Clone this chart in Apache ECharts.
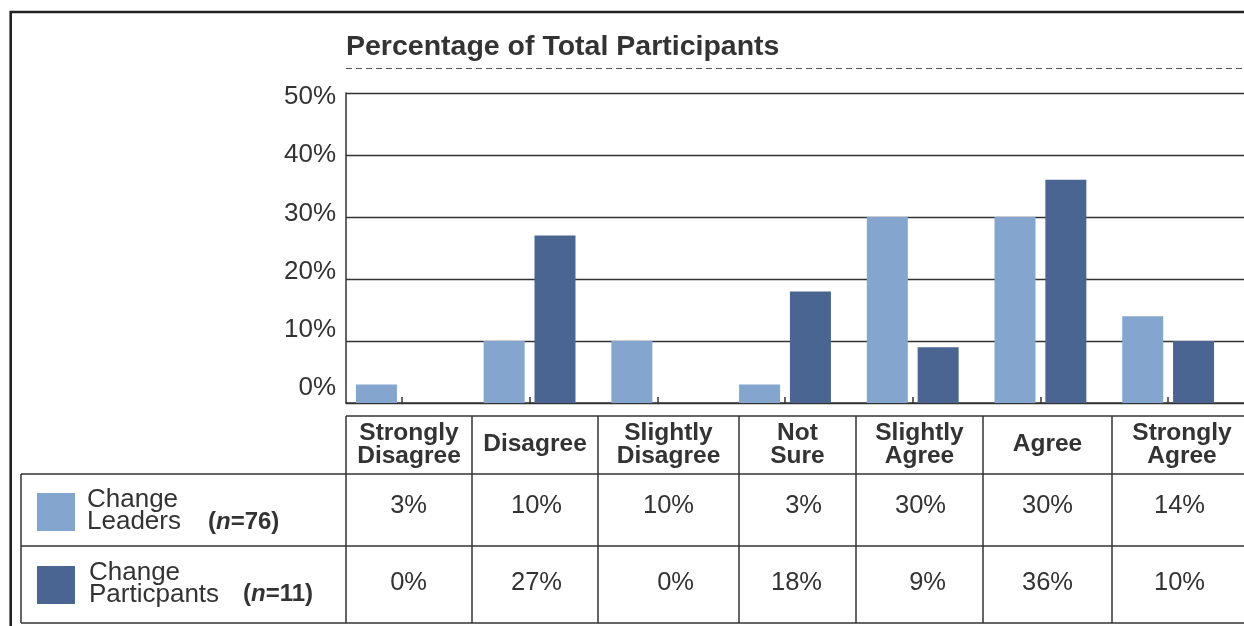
<!DOCTYPE html>
<html>
<head>
<meta charset="utf-8">
<script src="https://cdn.jsdelivr.net/npm/echarts@6/dist/echarts.min.js"></script>
<style>
  html, body { margin: 0; padding: 0; background: #fff; }
  #chart { width: 1244px; height: 626px; }
</style>
</head>
<body>
<div id="chart"></div>
<script>
// ---- data ----
const titleText = 'Percentage of Total Participants';
const categories = ['Strongly\nDisagree', 'Disagree', 'Slightly\nDisagree', 'Not\nSure', 'Slightly\nAgree', 'Agree', 'Strongly\nAgree'];
const leaders = [3, 10, 10, 3, 30, 30, 14];
const participants = [0, 27, 0, 18, 9, 36, 10];
const seriesLabels = ['Change\nLeaders', 'Change\nParticpants'];
const seriesN = ['76', '11'];
const yMin = 0, yMax = 50, yStep = 10;

// ---- layout / style ----
const FONT = '"Liberation Sans", Arial, Helvetica, sans-serif';
const TEXT = '#333333';
const LINE = '#333333';
const LIGHT = '#84A5CD';
const DARK = '#4A6592';
const colEdges = [346, 472, 598, 739, 856, 983, 1112, 1252];
const valueRight = [427, 562, 694, 822, 946, 1073, 1205];
const rowEdges = [416, 474, 546, 623];
const tableLeft = 21;

const chart = echarts.init(document.getElementById('chart'), null, { renderer: 'canvas' });

function seg(x1, y1, x2, y2, w, color, dash) {
  return {
    type: 'line', silent: true, z: 10,
    shape: { x1, y1, x2, y2 },
    style: { stroke: color, lineWidth: w, lineDash: dash || null }
  };
}

const graphics = [];
// outer frame
graphics.push({ type: 'rect', silent: true, z: 10,
  shape: { x: 10.7, y: 12, width: 1400, height: 800 },
  style: { fill: null, stroke: '#222', lineWidth: 2.6 } });
// title
graphics.push({ type: 'text', silent: true, z: 10, x: 346, y: 47,
  style: { text: titleText, font: 'bold 28.5px ' + FONT, fill: TEXT, verticalAlign: 'middle', align: 'left' } });
graphics.push(seg(346, 68.5, 1250, 68.5, 1, '#555', [6, 4]));

// table horizontal lines
graphics.push(seg(colEdges[0], rowEdges[0], 1260, rowEdges[0], 1.5, LINE));
for (let r = 1; r < rowEdges.length; r++) {
  graphics.push(seg(tableLeft, rowEdges[r], 1260, rowEdges[r], 1.5, LINE));
}
// vertical lines
graphics.push(seg(tableLeft, rowEdges[1], tableLeft, rowEdges[3], 1.5, LINE));
colEdges.forEach(x => graphics.push(seg(x, rowEdges[0], x, rowEdges[3], 1.5, LINE)));

// header labels
categories.forEach((c, i) => {
  graphics.push({ type: 'text', silent: true, z: 11,
    x: (colEdges[i] + colEdges[i + 1]) / 2, y: 444.5,
    style: { text: c, font: 'bold 24.5px ' + FONT, fill: TEXT, align: 'center', verticalAlign: 'middle', lineHeight: 23 } });
});

// value cells
const rowsData = [leaders, participants];
const rowMid = [506, 582.5];
rowsData.forEach((arr, r) => {
  arr.forEach((v, i) => {
    graphics.push({ type: 'text', silent: true, z: 11,
      x: valueRight[i], y: rowMid[r],
      style: { text: v + '%', font: '25.5px ' + FONT, fill: TEXT, align: 'right', verticalAlign: 'middle' } });
  });
});

// legend cells
const swatchColors = [LIGHT, DARK];
const swatchTop = [493, 566];
const labelX = [87, 89];
const labelMid = [511, 584];
const nX = [208, 243];
const nMid = [522.5, 594];
seriesLabels.forEach((lab, r) => {
  graphics.push({ type: 'rect', silent: true, z: 11,
    shape: { x: 37, y: swatchTop[r], width: 38, height: 38 },
    style: { fill: swatchColors[r] } });
  graphics.push({ type: 'text', silent: true, z: 11, x: labelX[r], y: labelMid[r],
    style: { text: lab, font: '26px ' + FONT, fill: TEXT, align: 'left', verticalAlign: 'middle', lineHeight: 22 } });
  graphics.push({ type: 'text', silent: true, z: 11, x: nX[r], y: nMid[r],
    style: { text: '(' + '{i|n}' + '=' + seriesN[r] + ')', font: 'bold 24px ' + FONT, fill: TEXT, align: 'left', verticalAlign: 'middle',
      rich: { i: { font: 'italic bold 24px ' + FONT, fill: TEXT } } } });
});

const option = {
  animation: false,
  backgroundColor: '#ffffff',
  grid: [
    { left: 346, right: -20, top: 93, bottom: 223 },   // gridlines & axes
    { left: 338, right: 12, top: 93, bottom: 223 },    // bars
    { left: 346, right: -20, top: 97, bottom: 238 }    // y tick labels
  ],
  xAxis: [
    { type: 'value', gridIndex: 0, min: 0, max: 1,
      axisLine: { show: true, lineStyle: { color: LINE, width: 1.5 } },
      axisTick: { show: false }, axisLabel: { show: false }, splitLine: { show: false } },
    { type: 'category', gridIndex: 1, data: categories,
      axisLine: { show: false },
      axisTick: { show: true, inside: true, length: 6, alignWithLabel: true, lineStyle: { color: LINE, width: 1.5 } },
      axisLabel: { show: false }, splitLine: { show: false } },
    { type: 'value', gridIndex: 2, show: false, min: 0, max: 1 }
  ],
  yAxis: [
    { type: 'value', gridIndex: 0, min: yMin, max: yMax, interval: yStep,
      axisLine: { show: true, lineStyle: { color: LINE, width: 1.5 } },
      axisTick: { show: false }, axisLabel: { show: false },
      splitLine: { show: true, lineStyle: { color: LINE, width: 1.3 } } },
    { type: 'value', gridIndex: 1, min: yMin, max: yMax, interval: yStep, show: false },
    { type: 'value', gridIndex: 2, min: yMin, max: yMax, interval: yStep,
      axisLine: { show: false }, axisTick: { show: false }, splitLine: { show: false },
      axisLabel: { show: true, formatter: '{value}%', fontSize: 26, fontFamily: FONT, color: TEXT, margin: 10 } }
  ],
  series: [
    { name: 'Change Leaders', type: 'bar', xAxisIndex: 1, yAxisIndex: 1, data: leaders,
      barWidth: 41, barGap: '24%', itemStyle: { color: LIGHT }, z: 3 },
    { name: 'Change Particpants', type: 'bar', xAxisIndex: 1, yAxisIndex: 1, data: participants,
      barWidth: 41, barGap: '24%', itemStyle: { color: DARK }, z: 3 }
  ],
  graphic: { elements: graphics }
};
chart.setOption(option);
</script>
</body>
</html>
